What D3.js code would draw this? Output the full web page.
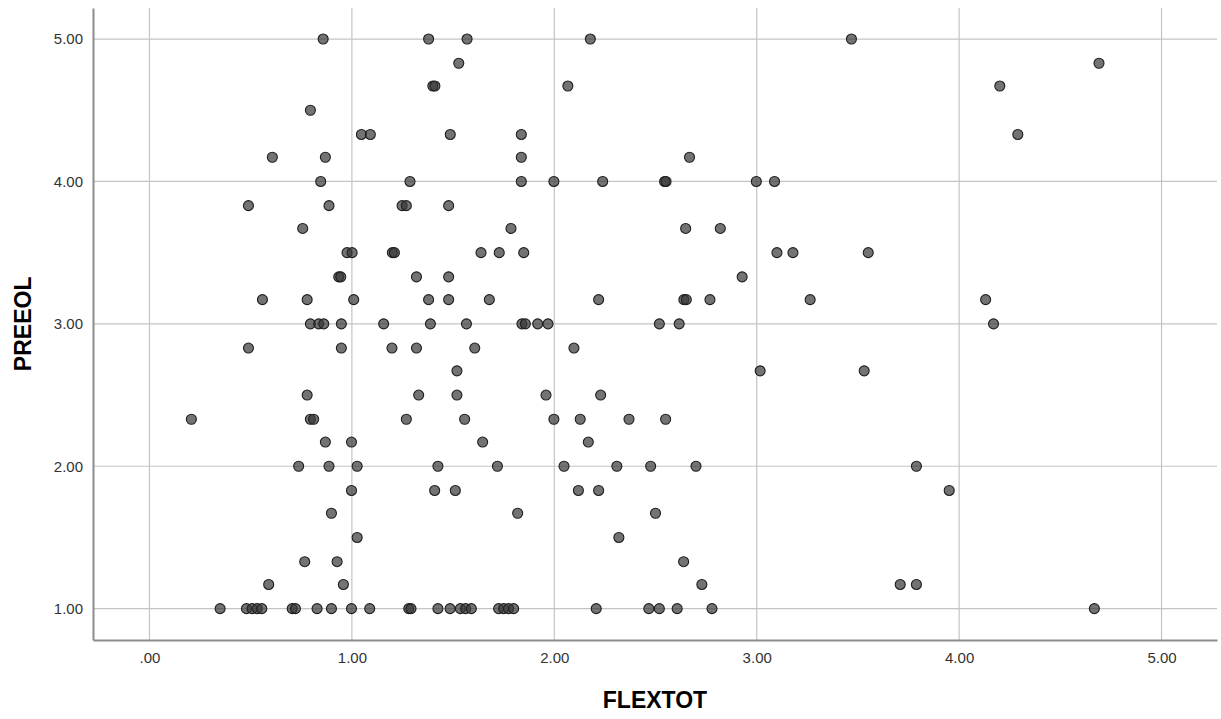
<!DOCTYPE html>
<html>
<head>
<meta charset="utf-8">
<script src="https://cdn.jsdelivr.net/npm/d3@7"></script>
<style>
  body { margin: 0; background: #fff; }
  svg text { font-family: "Liberation Sans", Arial, sans-serif; }
</style>
</head>
<body>
<svg id="chart"></svg>
<script>
// FLEXTOT / PREEOL pairs
var flextot = [
    0.858, 1.379, 1.569, 2.178, 3.468,
    1.528, 4.691,
    1.400, 1.410, 2.067, 4.201,
    0.795,
    1.047, 1.091, 1.486, 1.837, 4.290,
    0.607, 0.869, 1.837, 2.668,
    0.846, 1.287, 1.837, 1.998, 2.239, 2.545, 2.552, 2.998, 3.088,
    0.489, 0.887, 1.248, 1.269, 1.478,
    0.757, 1.786, 2.649, 2.820,
    0.976, 1.001, 1.200, 1.210, 1.638, 1.728, 1.849, 3.100, 3.179, 3.551,
    0.935, 0.945, 1.319, 1.478, 2.928,
    0.558, 0.779, 1.009, 1.379, 1.478, 1.679, 2.219, 2.640, 2.652, 2.769, 3.264, 4.131,
    0.795, 0.836, 0.861, 0.948, 1.157, 1.388, 1.566, 1.840, 1.857, 1.918, 1.969, 2.519, 2.617, 4.170,
    0.489, 0.948, 1.198, 1.319, 1.607, 2.097,
    1.519, 3.017, 3.531,
    0.779, 1.330, 1.519, 1.959, 2.229,
    0.207, 0.795, 0.811, 1.269, 1.557, 1.998, 2.128, 2.369, 2.550,
    0.869, 0.998, 1.646, 2.168,
    0.737, 0.887, 1.026, 1.425, 1.719, 2.048, 2.309, 2.476, 2.700, 3.789,
    0.998, 1.409, 1.511, 2.119, 2.219, 3.951,
    0.899, 1.819, 2.500,
    1.026, 2.319,
    0.767, 0.927, 2.639,
    0.589, 0.958, 2.729, 3.709, 3.789,
    0.349, 0.479, 0.507, 0.532, 0.555, 0.705, 0.721, 0.828, 0.899, 0.998, 1.088, 1.281, 1.292,
    1.425, 1.485, 1.536, 1.562, 1.590, 1.725, 1.750, 1.774, 1.799, 2.207, 2.467, 2.519, 2.607, 2.779, 4.668
];
var preeol = [
    5.00, 5.00, 5.00, 5.00, 5.00,
    4.83, 4.83,
    4.67, 4.67, 4.67, 4.67,
    4.50,
    4.33, 4.33, 4.33, 4.33, 4.33,
    4.17, 4.17, 4.17, 4.17,
    4.00, 4.00, 4.00, 4.00, 4.00, 4.00, 4.00, 4.00, 4.00,
    3.83, 3.83, 3.83, 3.83, 3.83,
    3.67, 3.67, 3.67, 3.67,
    3.50, 3.50, 3.50, 3.50, 3.50, 3.50, 3.50, 3.50, 3.50, 3.50,
    3.33, 3.33, 3.33, 3.33, 3.33,
    3.17, 3.17, 3.17, 3.17, 3.17, 3.17, 3.17, 3.17, 3.17, 3.17, 3.17, 3.17,
    3.00, 3.00, 3.00, 3.00, 3.00, 3.00, 3.00, 3.00, 3.00, 3.00, 3.00, 3.00, 3.00, 3.00,
    2.83, 2.83, 2.83, 2.83, 2.83, 2.83,
    2.67, 2.67, 2.67,
    2.50, 2.50, 2.50, 2.50, 2.50,
    2.33, 2.33, 2.33, 2.33, 2.33, 2.33, 2.33, 2.33, 2.33,
    2.17, 2.17, 2.17, 2.17,
    2.00, 2.00, 2.00, 2.00, 2.00, 2.00, 2.00, 2.00, 2.00, 2.00,
    1.83, 1.83, 1.83, 1.83, 1.83, 1.83,
    1.67, 1.67, 1.67,
    1.50, 1.50,
    1.33, 1.33, 1.33,
    1.17, 1.17, 1.17, 1.17, 1.17,
    1.00, 1.00, 1.00, 1.00, 1.00, 1.00, 1.00, 1.00, 1.00, 1.00, 1.00, 1.00, 1.00,
    1.00, 1.00, 1.00, 1.00, 1.00, 1.00, 1.00, 1.00, 1.00, 1.00, 1.00, 1.00, 1.00, 1.00, 1.00
];
var xTicks = [0, 1, 2, 3, 4, 5];
var yTicks = [1, 2, 3, 4, 5];

var W = 1221, H = 719;
var margin = {top: 8, right: 4, bottom: 79, left: 93};

var svg = d3.select("#chart").attr("width", W).attr("height", H);

let x = d3.scaleLinear().domain([-0.279, 5.274]).range([margin.left, W - margin.right]);
let y = d3.scaleLinear().domain([0.78, 5.218]).range([H - margin.bottom, margin.top]);

var fmt = function(d) { return d == 0 ? ".00" : d3.format(".2f")(d); };

// gridlines
svg.append("g")
    .selectAll("line")
    .data(xTicks)
    .enter().append("line")
    .attr("x1", d => x(d)).attr("x2", d => x(d))
    .attr("y1", y.range()[1]).attr("y2", y.range()[0])
    .style("stroke", "#c4c4c4").style("stroke-width", 1.2);

svg.append("g")
    .selectAll("line")
    .data(yTicks)
    .enter().append("line")
    .attr("x1", x.range()[0]).attr("x2", x.range()[1])
    .attr("y1", d => y(d)).attr("y2", d => y(d))
    .style("stroke", "#c4c4c4").style("stroke-width", 1.2);

// axes
let xAxis = d3.axisBottom(x).tickValues(xTicks).tickSize(0).tickPadding(12).tickFormat(fmt);
let yAxis = d3.axisLeft(y).tickValues(yTicks).tickSize(0).tickPadding(10).tickFormat(fmt);

svg.append("g")
    .attr("class", "x axis")
    .attr("transform", "translate(0," + y.range()[0] + ")")
    .call(xAxis);

svg.append("g")
    .attr("class", "y axis")
    .attr("transform", "translate(" + x.range()[0] + ",0)")
    .call(yAxis);

svg.selectAll(".axis path").style("stroke", "#8c8c8c").style("stroke-width", 2);
svg.selectAll(".axis text").style("font-size", "15px").style("fill", "#333");

// points
svg.append("g")
    .selectAll("circle")
    .data(flextot.map((d, i) => ({x: d, y: preeol[i]})))
    .enter().append("circle")
    .attr("cx", d => x(d.x))
    .attr("cy", d => y(d.y))
    .attr("r", 5)
    .style("fill", "rgba(55,55,55,0.7)")
    .style("stroke", "#1e1e1e")
    .style("stroke-width", 1.1);

// axis titles
svg.append("text")
    .attr("x", 655)
    .attr("y", 708)
    .style("font-size", "23px")
    .style("font-weight", "bold")
    .style("text-anchor", "middle")
    .text("FLEXTOT");

svg.append("text")
    .attr("transform", "translate(31," + y(3) + ") rotate(-90)")
    .style("font-size", "23px")
    .style("font-weight", "bold")
    .style("text-anchor", "middle")
    .text("PREEOL");
</script>
</body>
</html>
